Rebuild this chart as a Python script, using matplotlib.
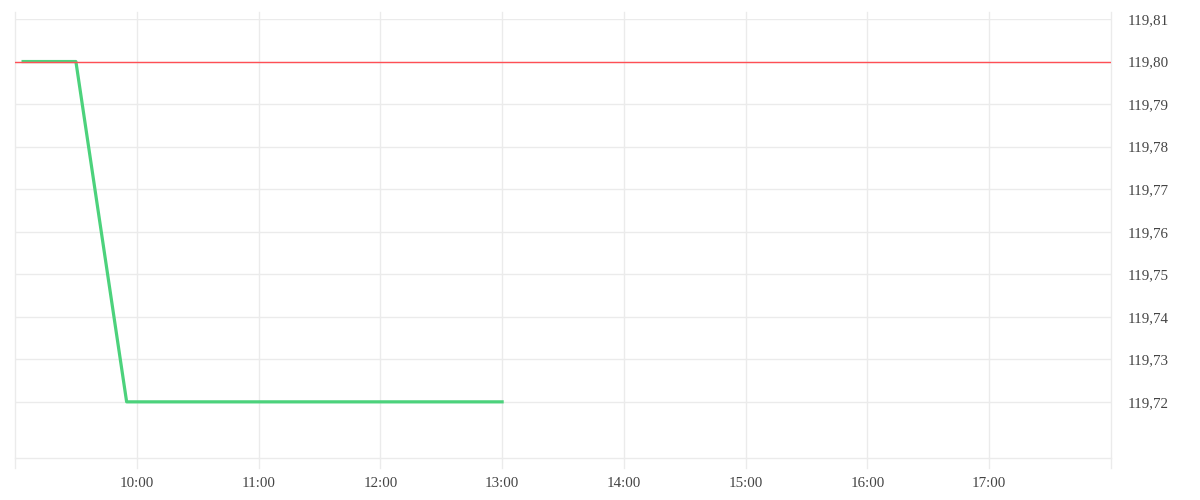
import numpy as np
import pandas as pd
import matplotlib
matplotlib.use("Agg")
import matplotlib.pyplot as plt
import matplotlib.dates as mdates
from matplotlib.ticker import FuncFormatter

# price data (intraday)
times = ["09:04", "09:30", "09:55", "13:00"]
prices = [119.80, 119.80, 119.72, 119.72]
ref_price = 119.80

hour_ticks = ["10:00", "11:00", "12:00", "13:00", "14:00", "15:00", "16:00", "17:00"]
grid_hours = ["09:00"] + hour_ticks + ["18:00"]
y_ticks = [119.72, 119.73, 119.74, 119.75, 119.76, 119.77, 119.78, 119.79, 119.80, 119.81]

day = "2024-01-02 "
def to_dt(lst):
    return pd.to_datetime([day + t for t in lst])

t = to_dt(times)
hticks = to_dt(hour_ticks)
ghours = to_dt(grid_hours)

plt.rcParams['font.family'] = ['Liberation Serif', 'DejaVu Serif']

fig = plt.figure(figsize=(12, 5), dpi=100)
ax = fig.add_axes([15 / 1200, 42 / 500, 1096 / 1200, 439 / 500])

grid_c = '#ebebeb'
ymin = 119.81 - 10.32 * 0.01
ax.set_xlim(ghours[0], ghours[-1])
ax.set_ylim(ymin, 119.81)

# grid lines
for y in y_ticks:
    ax.axhline(y, color=grid_c, lw=1, zorder=0)
ax.axhline(ymin, color=grid_c, lw=1, zorder=0, clip_on=False)
for g in ghours:
    ax.axvline(g, ymin=-10 / 439, ymax=1 + 7 / 439, color=grid_c, lw=1,
               zorder=0, clip_on=False)

ax.plot(t, prices, color='#4cd27c', lw=2.3, zorder=2)
ax.axhline(ref_price, color='#ff4f55', lw=1, zorder=3)

ax.set_xticks(hticks)
ax.xaxis.set_major_formatter(mdates.DateFormatter('%H:%M'))
ax.set_yticks(y_ticks)
ax.yaxis.set_major_formatter(FuncFormatter(lambda v, p: f"{v:.2f}".replace('.', ',')))
ax.yaxis.tick_right()
ax.tick_params(axis='both', length=0, labelsize=10.8, colors='#444444')
ax.tick_params(axis='y', pad=12)
ax.tick_params(axis='x', pad=14)

for s in ax.spines.values():
    s.set_visible(False)
ax.set_facecolor('white')

fig.savefig('out.png', dpi=100, facecolor='white')
